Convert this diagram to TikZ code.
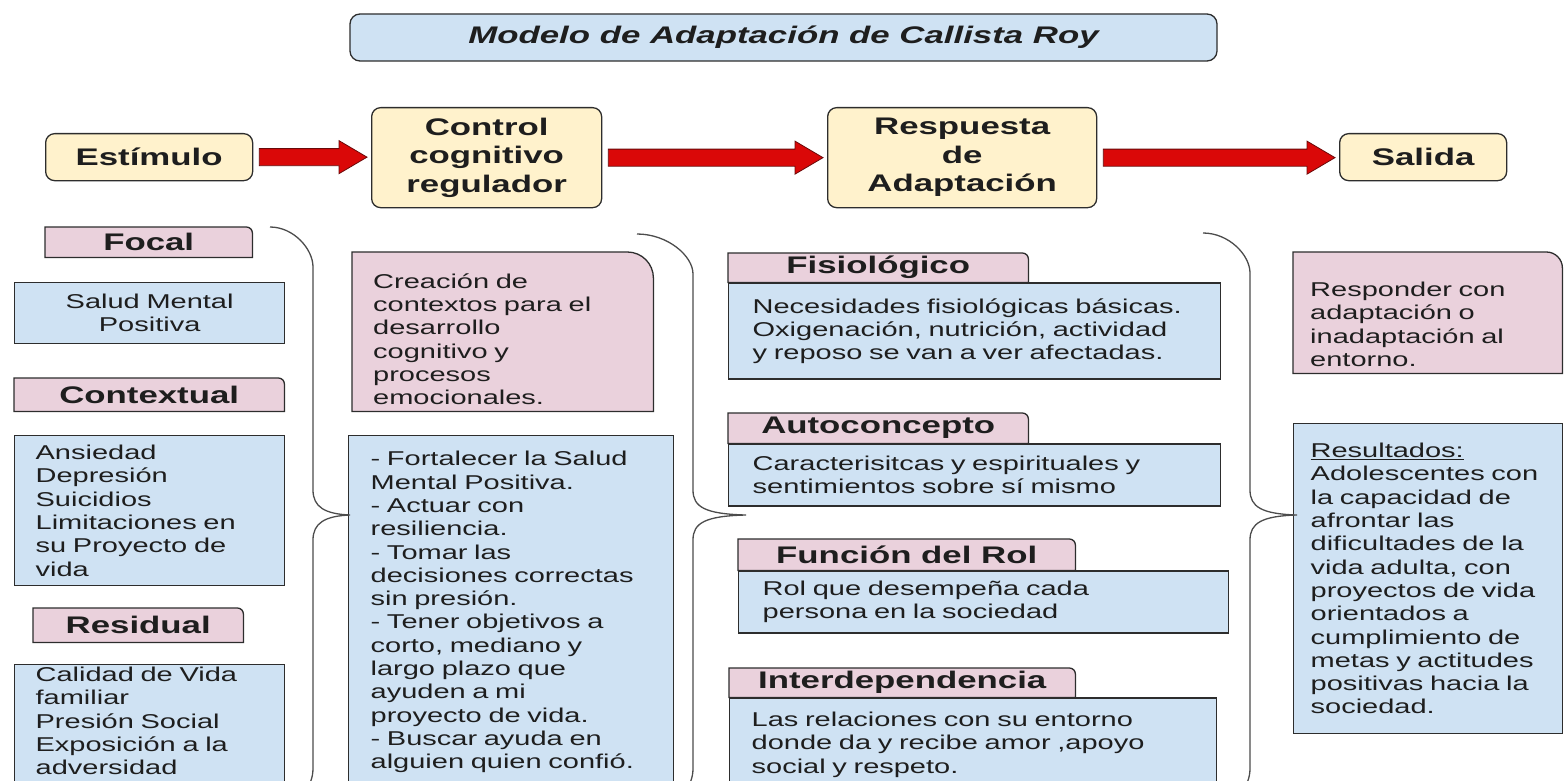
\documentclass[tikz,border=0pt]{standalone}
\usepackage{fontspec}
\setmainfont{Liberation Sans}[FakeStretch=1.45]
\usepackage{xcolor}
\usetikzlibrary{positioning,calc,backgrounds}
\definecolor{azulclaro}{RGB}{207,226,243}
\definecolor{rosaclaro}{RGB}{234,209,220}
\definecolor{crema}{RGB}{255,242,204}
\definecolor{rojo}{RGB}{218,8,8}
\definecolor{rojooscuro}{RGB}{105,10,10}
\definecolor{borde}{RGB}{45,45,45}
\definecolor{tinta}{RGB}{30,30,30}

\newcommand{\cuerpo}{\fontsize{20}{23.3}\selectfont}
\newcommand{\cabecera}{\fontsize{24}{28.5}\selectfont\bfseries}
\newcommand{\titulofuente}{\fontsize{24}{28}\selectfont\bfseries\itshape}

\tikzset{
  caja/.style={draw=borde, line width=1.3pt, text=tinta, inner sep=0pt},
  cajacrema/.style={caja, fill=crema, rounded corners=9pt, font=\cabecera, align=center, anchor=north west},
  cajaazul/.style={caja, fill=azulclaro, anchor=north west, font=\cuerpo, align=left},
  pestana/.style={anchor=north west, font=\cabecera, text=tinta, inner sep=0pt},
  cajarosa/.style={anchor=north west, font=\cuerpo, text=tinta, align=left, inner sep=0pt},
  flechaestilo/.style={fill=rojo, draw=rojooscuro, line width=0.8pt},
  lineallave/.style={draw=borde!85, line width=1.3pt},
}

% block arrow between two nodes
\newcommand{\flecha}[2]{%
  \draw[flechaestilo] let \p1=(#1.east), \p2=(#2.west) in
    (\x1+6pt,\y1+8.5pt) -- (\x2-32pt,\y1+8.5pt) -- (\x2-32pt,\y1+16.5pt) -- (\x2-4pt,\y1)
    -- (\x2-32pt,\y1-16.5pt) -- (\x2-32pt,\y1-8.5pt) -- (\x1+6pt,\y1-8.5pt) -- cycle;}

% pink box with one rounded corner
\newcommand{\esquina}[2]{%
  \draw[caja, fill=rosaclaro] (#1.south west) -- (#1.north west)
    -- ([xshift=-#2pt]#1.north east) arc[start angle=90, end angle=0, radius=#2pt]
    -- (#1.south east) -- cycle;}

% curly brace: start x, start y, spine x, tip x
\newcommand{\llave}[4]{%
  \draw[lineallave] (#1,#2) .. controls ({#1+0.55*(#3-#1)},#2) and (#3,{#2+22}) .. (#3,{#2+40})
    -- (#3,490) .. controls (#3,507) and ({#3+12},514) .. (#4,515)
    .. controls ({#3+12},516) and (#3,523) .. (#3,540)
    -- (#3,768) .. controls (#3,778) and ({#3-3},784) .. ({#3-8},792);}

\begin{document}
\begin{tikzpicture}[x=1pt, y=-1pt]
  \useasboundingbox (0,0) rectangle (1566,781);

  % Title
  \node[caja, fill=azulclaro, rounded corners=10pt, font=\titulofuente, minimum width=867pt, minimum height=47pt] (titulo) at (783.5,37.5) {Modelo de Adaptación de Callista Roy};

  % Main row
  \node[cajacrema, minimum width=207pt, minimum height=47pt] (estimulo) at (45,133) {Estímulo};
  \node[cajacrema, minimum width=230pt, minimum height=100pt] (control) at (371,107) {Control\\cognitivo\\regulador};
  \node[cajacrema, minimum width=269pt, minimum height=100pt] (respuesta) at (827,107) {Respuesta\\de\\Adaptación};
  \node[cajacrema, minimum width=167pt, minimum height=47pt] (salida) at (1339,133) {Salida};

  \flecha{estimulo}{control}
  \flecha{control}{respuesta}
  \flecha{respuesta}{salida}

  % Estimulo column
  \node[pestana, minimum width=207pt, minimum height=30pt] (focal) at (45,227) {Focal};
  \node[cajaazul, align=center, text width=230pt, minimum width=270pt, minimum height=61pt] (salud) at (14,282) {Salud Mental\\Positiva};
  \node[pestana, minimum width=270pt, minimum height=33pt] (contextual) at (14,378) {Contextual};
  \node[cajaazul, text width=228pt, minimum width=270pt, minimum height=150pt] (ctxtexto) at (14,435) {Ansiedad\\Depresión\\Suicidios\\Limitaciones en\\su Proyecto de\\vida};
  \node[pestana, minimum width=210pt, minimum height=34pt] (residual) at (33,608) {Residual};
  \node[cajaazul, text width=228pt, text depth=105pt, minimum width=270pt, minimum height=124pt] (restexto) at (14,664) {Calidad de Vida\\familiar\\Presión Social\\Exposición a la\\adversidad};

  % Control column
  \node[cajarosa, text width=259pt, text height=30pt, minimum width=301pt, minimum height=159pt] (creacion) at (352,252) {Creación de\\contextos para el\\desarrollo\\cognitivo y\\procesos\\emocionales.};
  \node[cajaazul, text width=281pt, minimum width=325pt, minimum height=353pt] (acciones) at (348,435) {- Fortalecer la Salud\\Mental Positiva.\\- Actuar con\\resiliencia.\\- Tomar las\\decisiones correctas\\sin presión.\\- Tener objetivos a\\corto, mediano y\\largo plazo que\\ayuden a mi\\proyecto de vida.\\- Buscar ayuda en\\alguien quien confió.};

  % Respuesta column
  \node[pestana, minimum width=300pt, minimum height=29pt] (fisio) at (728,253) {Fisiológico};
  \node[cajaazul, text width=444pt, minimum width=492pt, minimum height=96pt, below right=0pt and 0pt of fisio.south west] (fisiotexto) {Necesidades fisiológicas básicas.\\Oxigenación, nutrición, actividad\\y reposo se van a ver afectadas.};
  \node[pestana, minimum width=300pt, minimum height=30pt] (auto) at (728,413) {Autoconcepto};
  \node[cajaazul, text width=444pt, minimum width=492pt, minimum height=62pt, below right=0pt and 0pt of auto.south west] (autotexto) {Caracterisitcas y espirituales y\\sentimientos sobre sí mismo};
  \node[pestana, minimum width=337pt, minimum height=31pt] (rol) at (738,539) {Función del Rol};
  \node[cajaazul, text width=442pt, minimum width=490pt, minimum height=62pt, below right=0pt and 0pt of rol.south west] (roltexto) {Rol que desempeña cada\\persona en la sociedad};
  \node[pestana, minimum width=346pt, minimum height=29pt] (inter) at (729,668) {Interdependencia};
  \node[cajaazul, text width=443pt, minimum width=487pt, minimum height=93pt, below right=0pt and 0pt of inter.south west] (intertexto) {Las relaciones con su entorno\\donde da y recibe amor ,apoyo\\social y respeto.};

  % Salida column
  \node[cajarosa, text width=235pt, text height=38pt, minimum width=269pt, minimum height=121pt] (responder) at (1293,252) {Responder con\\adaptación o\\inadaptación al\\entorno.};
  \node[cajaazul, text width=235pt, minimum width=269pt, minimum height=310pt] (resultados) at (1293,423) {\underline{Resultados:}\\Adolescentes con\\la capacidad de\\afrontar las\\dificultades de la\\vida adulta, con\\proyectos de vida\\orientados a\\cumplimiento de\\metas y actitudes\\positivas hacia la\\sociedad.};

  % Pink shapes behind the text
  \begin{scope}[on background layer]
    \foreach \nom/\rad in {focal/6, contextual/6, residual/6, creacion/26, fisio/6, auto/6, rol/6, inter/6, responder/16}
      {\esquina{\nom}{\rad}}
  \end{scope}

  % Braces
  \llave{270}{227}{313}{350}
  \llave{637}{234}{693}{746}
  \llave{1203}{233}{1250}{1297}
\end{tikzpicture}
\end{document}
